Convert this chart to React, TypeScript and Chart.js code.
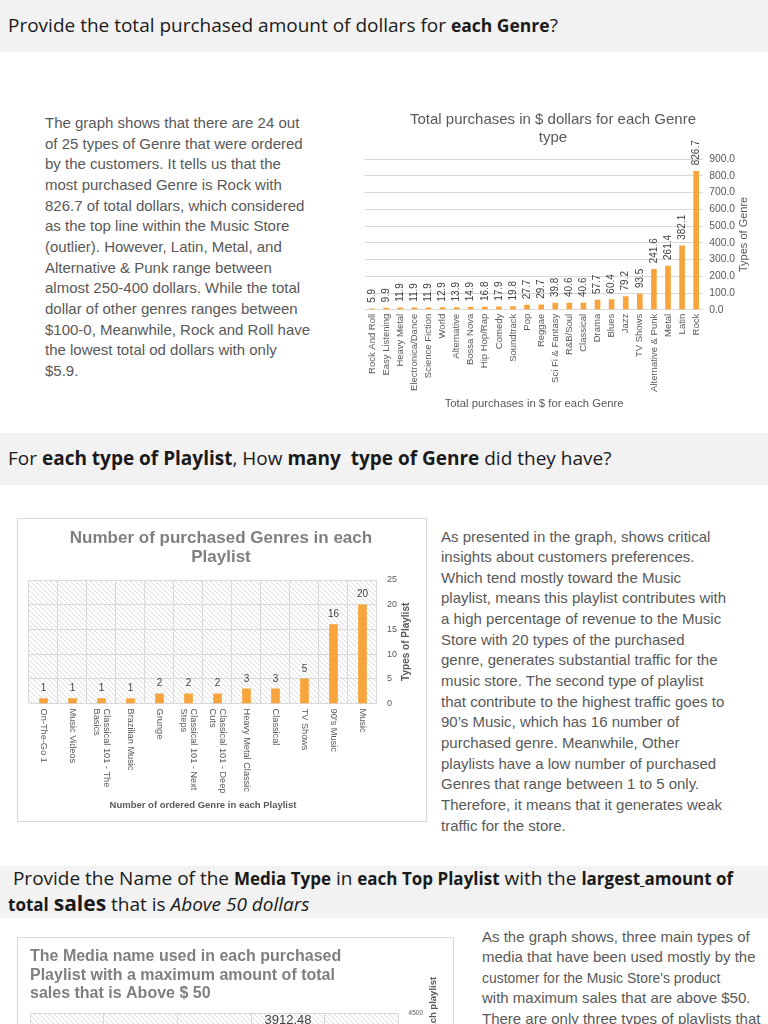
import React, { useEffect, useRef } from "react";
import { Chart, registerables } from "chart.js";

Chart.register(...registerables);

const FONT = "'Liberation Sans', Arial, Helvetica, sans-serif";
Chart.defaults.font.family = FONT;

const ORANGE = "#F8A43C";

// ---------- Data: chart 1 ----------
const genreLabels = [
  "Rock And Roll", "Easy Listening", "Heavy Metal", "Electronica/Dance", "Science Fiction",
  "World", "Alternative", "Bossa Nova", "Hip Hop/Rap", "Comedy", "Soundtrack", "Pop",
  "Reggae", "Sci Fi & Fantasy", "R&B/Soul", "Classical", "Drama", "Blues", "Jazz",
  "TV Shows", "Alternative & Punk", "Metal", "Latin", "Rock",
];
const genreTotals = [
  5.9, 9.9, 11.9, 11.9, 11.9, 12.9, 13.9, 14.9, 16.8, 17.9, 19.8, 27.7,
  29.7, 39.8, 40.6, 40.6, 57.7, 60.4, 79.2, 93.5, 241.6, 261.4, 382.1, 826.7,
];

// ---------- Data: chart 2 ----------
const playlistLabels = [
  ["On-The-Go 1"], ["Music Videos"], ["Classical 101 - The", "Basics"], ["Brazilian Music"],
  ["Grunge"], ["Classical 101 - Next", "Steps"], ["Classical 101 - Deep", "Cuts"],
  ["Heavy Metal Classic"], ["Classical"], ["TV Shows"], ["90’s Music"], ["Music"],
];
const playlistGenreCounts = [1, 1, 1, 1, 2, 2, 2, 3, 3, 5, 16, 20];

// ---------- Data: chart 3 (only the top is visible) ----------
const mediaPlaylistLabels = [["Classical"], ["TV Shows"], ["90’s Music"], ["Music"], ["Movies"]];
const mediaPlaylistSales = [412.5, 1134.2, 2264.9, 3912.48, 205.6];

// ---------- Plugins ----------
const valueLabelsPlugin = {
  id: "valueLabels",
  afterDatasetsDraw(chart: any, _a: any, opts: any) {
    if (!opts || !opts.display) return;
    const { ctx } = chart;
    const meta = chart.getDatasetMeta(0);
    const data = chart.data.datasets[0].data as number[];
    ctx.save();
    ctx.font = opts.font;
    ctx.fillStyle = opts.color;
    meta.data.forEach((bar: any, i: number) => {
      const { x, y } = bar.getProps(["x", "y"], true);
      const text = Number(data[i]).toFixed(opts.decimals);
      if (opts.rotate) {
        ctx.save();
        ctx.translate(x, y - opts.offset);
        ctx.rotate(-Math.PI / 2);
        ctx.textAlign = "left";
        ctx.textBaseline = "middle";
        ctx.fillText(text, 0, 0);
        ctx.restore();
      } else {
        ctx.textAlign = "center";
        ctx.textBaseline = "middle";
        ctx.fillText(text, x, y - opts.offset);
      }
    });
    ctx.restore();
  },
};

const sideTitlePlugin = {
  id: "sideTitle",
  afterDraw(chart: any, _a: any, opts: any) {
    if (!opts || !opts.text) return;
    const { ctx, chartArea } = chart;
    ctx.save();
    ctx.font = opts.font;
    ctx.fillStyle = opts.color;
    ctx.translate(chartArea.right + opts.offset, (chartArea.top + chartArea.bottom) / 2);
    ctx.rotate(-Math.PI / 2);
    ctx.textAlign = "center";
    ctx.textBaseline = "middle";
    ctx.fillText(opts.text, 0, 0);
    ctx.restore();
  },
};

function makeHatch(): CanvasPattern | string {
  const c = document.createElement("canvas");
  c.width = 5;
  c.height = 5;
  const g = c.getContext("2d");
  if (!g) return "#fff";
  g.fillStyle = "#ffffff";
  g.fillRect(0, 0, 5, 5);
  g.strokeStyle = "#dcdcdc";
  g.lineWidth = 1;
  g.beginPath();
  g.moveTo(-1, -1);
  g.lineTo(6, 6);
  g.moveTo(-1, 4);
  g.lineTo(1, 6);
  g.moveTo(4, -1);
  g.lineTo(6, 1);
  g.stroke();
  const p = g.createPattern(c, "repeat");
  return p || "#fff";
}

const hatchPlugin = {
  id: "hatch",
  beforeDraw(chart: any, _a: any, opts: any) {
    if (!opts || !opts.enabled) return;
    const { ctx, chartArea } = chart;
    ctx.save();
    ctx.fillStyle = makeHatch();
    ctx.fillRect(chartArea.left, chartArea.top, chartArea.right - chartArea.left, chartArea.bottom - chartArea.top);
    ctx.restore();
  },
};

const downLabelsPlugin = {
  id: "downLabels",
  afterDraw(chart: any, _a: any, opts: any) {
    if (!opts || !opts.enabled) return;
    const { ctx, chartArea } = chart;
    const xs = chart.scales.x;
    const labels = chart.data.labels as any[];
    ctx.save();
    ctx.font = opts.font;
    ctx.fillStyle = opts.color;
    ctx.textAlign = "left";
    ctx.textBaseline = "middle";
    labels.forEach((lab: any, i: number) => {
      const lines: string[] = Array.isArray(lab) ? lab : [String(lab)];
      const px = xs.getPixelForValue(i);
      ctx.save();
      ctx.translate(px, chartArea.bottom + opts.offset);
      ctx.rotate(Math.PI / 2);
      lines.forEach((ln, j) => {
        ctx.fillText(ln, 0, (j - (lines.length - 1) / 2) * opts.lineHeight);
      });
      ctx.restore();
    });
    ctx.restore();
  },
};

const allPlugins = [valueLabelsPlugin, sideTitlePlugin, hatchPlugin, downLabelsPlugin];

// ---------- Configs ----------
function genreConfig(): any {
  return {
    type: "bar",
    data: {
      labels: genreLabels,
      datasets: [{ data: genreTotals, backgroundColor: ORANGE, barThickness: 5 }],
    },
    options: {
      animation: false,
      responsive: false,
      maintainAspectRatio: false,
      layout: { padding: { left: 7, right: 19, top: 0, bottom: 3 } },
      plugins: {
        legend: { display: false },
        tooltip: { enabled: false },
        title: {
          display: true,
          text: ["Total purchases in $ dollars for each Genre", "type"],
          color: "#595959",
          font: { size: 15, weight: "normal", lineHeight: 1.2 },
          padding: { top: 7, bottom: 12 },
        },
        valueLabels: { display: true, rotate: true, offset: 6, decimals: 1, font: `10px ${FONT}`, color: "#404040" },
        sideTitle: { text: "Types of Genre", offset: 41, font: `11px ${FONT}`, color: "#595959" },
      },
      scales: {
        x: {
          grid: { display: false, drawTicks: false },
          border: { display: false },
          ticks: { autoSkip: false, minRotation: 90, maxRotation: 90, color: "#595959", font: { size: 9.5 }, padding: 4 },
          title: {
            display: true,
            text: "Total purchases in $ for each Genre",
            color: "#595959",
            font: { size: 11.3 },
            padding: { top: 1.5, bottom: 4 },
          },
        },
        y: {
          position: "right",
          min: 0,
          max: 900,
          ticks: { stepSize: 100, color: "#595959", font: { size: 10.3 }, padding: 6, callback: (v: any) => Number(v).toFixed(1) },
          grid: { color: "#d9d9d9", drawTicks: false },
          border: { display: false },
        },
      },
    },
  };
}

function playlistConfig(): any {
  return {
    type: "bar",
    data: {
      labels: playlistLabels,
      datasets: [{ data: playlistGenreCounts, backgroundColor: ORANGE, barThickness: 8 }],
    },
    options: {
      animation: false,
      responsive: false,
      maintainAspectRatio: false,
      layout: { padding: { left: 11, right: 11, top: 0, bottom: 6 } },
      plugins: {
        legend: { display: false },
        tooltip: { enabled: false },
        title: {
          display: true,
          text: ["Number of purchased Genres in each", "Playlist"],
          color: "#7f7f7f",
          font: { size: 17, weight: "bold", lineHeight: 19 / 17 },
          padding: { top: 9.5, bottom: 13.5 },
        },
        hatch: { enabled: true },
        valueLabels: { display: true, rotate: false, offset: 10, decimals: 0, font: `10px ${FONT}`, color: "#404040" },
        downLabels: { enabled: true, offset: 5, lineHeight: 10.5, font: `9.2px ${FONT}`, color: "#595959" },
        sideTitle: { text: "Types of Playlist", offset: 29, font: `bold 10px ${FONT}`, color: "#595959" },
      },
      scales: {
        x: {
          grid: { color: "#d9d9d9", drawTicks: false, offset: true },
          border: { display: true, color: "#d9d9d9" },
          ticks: { display: false },
          title: {
            display: true,
            text: "Number of ordered Genre in each Playlist",
            color: "#595959",
            font: { size: 9.5, weight: "bold" },
            padding: { top: 96, bottom: 4 },
          },
        },
        y: {
          position: "right",
          min: 0,
          max: 25,
          ticks: { stepSize: 5, color: "#595959", font: { size: 9 }, padding: 10 },
          grid: { color: "#d9d9d9", drawTicks: false },
          border: { display: true, color: "#d9d9d9" },
          afterFit: (scale: any) => {
            scale.width += 6;
          },
        },
      },
    },
  };
}

function mediaConfig(): any {
  return {
    type: "bar",
    data: {
      labels: mediaPlaylistLabels,
      datasets: [{ data: mediaPlaylistSales, backgroundColor: ORANGE, barThickness: 14 }],
    },
    options: {
      animation: false,
      responsive: false,
      maintainAspectRatio: false,
      layout: { padding: { left: 12, right: 20, top: 0, bottom: 6 } },
      plugins: {
        legend: { display: false },
        tooltip: { enabled: false },
        title: {
          display: true,
          align: "start",
          text: ["The Media name used in each purchased", "Playlist with a maximum amount of total", "sales that is Above $ 50"],
          color: "#7f7f7f",
          font: { size: 16, weight: "bold", lineHeight: 18.5 / 16 },
          padding: { top: 9.75, bottom: 9.75 },
        },
        hatch: { enabled: true },
        valueLabels: { display: true, rotate: false, offset: 11, decimals: 2, font: `13px ${FONT}`, color: "#404040" },
        downLabels: { enabled: true, offset: 5, lineHeight: 10.5, font: `9px ${FONT}`, color: "#595959" },
        sideTitle: { text: "Maximum amount of total sales in each playlist", offset: 34.5, font: `bold 9.5px ${FONT}`, color: "#595959" },
      },
      scales: {
        x: {
          grid: { color: "#d9d9d9", drawTicks: false, offset: true },
          border: { display: true, color: "#d9d9d9" },
          ticks: { display: false },
          title: {
            display: true,
            text: "Playlist and Media Type",
            color: "#595959",
            font: { size: 9.5, weight: "bold" },
            padding: { top: 99.6, bottom: 4 },
          },
        },
        y: {
          position: "right",
          min: 0,
          max: 4500,
          ticks: { stepSize: 500, color: "#595959", font: { size: 6.5 }, padding: 10, callback: (v: any) => String(v) },
          grid: { color: "#d9d9d9", drawTicks: false },
          border: { display: true, color: "#d9d9d9" },
        },
      },
    },
  };
}

// ---------- Components ----------
function ChartCanvas(props: { make: () => any; left: number; top: number; width: number; height: number }) {
  const ref = useRef<HTMLCanvasElement | null>(null);
  useEffect(() => {
    if (!ref.current) return;
    const cfg = props.make();
    cfg.plugins = allPlugins;
    const chart = new Chart(ref.current, cfg);
    return () => chart.destroy();
  }, []);
  return (
    <canvas
      ref={ref}
      width={props.width}
      height={props.height}
      style={{ position: "absolute", left: props.left, top: props.top, width: props.width, height: props.height }}
    />
  );
}

const band: React.CSSProperties = {
  position: "absolute",
  left: 0,
  width: 768,
  background: "#f2f2f2",
  fontFamily: "'Open Sans', sans-serif",
  color: "#1a1a1a",
  fontSize: 19,
  whiteSpace: "pre",
};

const para: React.CSSProperties = {
  position: "absolute",
  fontFamily: FONT,
  fontSize: 15,
  lineHeight: "20.65px",
  color: "#595959",
  whiteSpace: "pre",
};

export default function App() {
  return (
    <div style={{ position: "absolute", left: 0, top: 0, width: 768, height: 1024, overflow: "hidden", background: "#ffffff" }}>
      {/* Header 1 */}
      <div style={{ ...band, top: 0, height: 52 }}>
        <div style={{ lineHeight: "50px", paddingLeft: 8 }}>
          Provide the total purchased amount of dollars for <b style={{ fontSize: 17.5 }}>each Genre</b>?
        </div>
      </div>

      {/* Paragraph 1 */}
      <div style={{ ...para, left: 45, top: 113 }}>
        {[
          "The graph shows that there are 24 out",
          "of 25 types of Genre that were ordered",
          "by the customers. It tells us that the",
          "most purchased Genre is Rock with",
          "826.7 of total dollars, which considered",
          "as the top line within the Music Store",
          "(outlier). However, Latin, Metal, and",
          "Alternative & Punk range between",
          "almost 250-400 dollars. While the total",
          "dollar of other genres ranges between",
          "$100-0, Meanwhile, Rock and Roll have",
          "the lowest total od dollars with only",
          "$5.9.",
        ].map((l, i) => (
          <div key={i}>{l}</div>
        ))}
      </div>

      <ChartCanvas make={genreConfig} left={358} top={104} width={402} height={314} />

      {/* Header 2 */}
      <div style={{ ...band, top: 433, height: 52 }}>
        <div style={{ lineHeight: "50px", paddingLeft: 8 }}>
          For <b>each type of Playlist</b>, How <b>many  type of Genre</b> did they have?
        </div>
      </div>

      {/* Chart 2 box */}
      <div
        style={{
          position: "absolute",
          left: 17,
          top: 518,
          width: 410,
          height: 304,
          boxSizing: "border-box",
          border: "1px solid #d9d9d9",
          background: "#fff",
        }}
      />
      <ChartCanvas make={playlistConfig} left={18} top={519} width={406} height={302} />

      {/* Paragraph 2 */}
      <div style={{ ...para, left: 441, top: 526.5 }}>
        {[
          "As presented in the graph, shows critical",
          "insights about customers preferences.",
          "Which tend mostly toward the Music",
          "playlist, means this playlist contributes with",
          "a high percentage of revenue to the Music",
          "Store with 20 types of the purchased",
          "genre, generates substantial traffic for the",
          "music store. The second type of playlist",
          "that contribute to the highest traffic goes to",
          "90’s Music, which has 16 number of",
          "purchased genre. Meanwhile, Other",
          "playlists have a low number of purchased",
          "Genres that range between 1 to 5 only.",
          "Therefore, it means that it generates weak",
          "traffic for the store.",
        ].map((l, i) => (
          <div key={i}>{l}</div>
        ))}
      </div>

      {/* Header 3 */}
      <div style={{ ...band, top: 866, height: 52 }}>
        <div style={{ lineHeight: "24px", paddingLeft: 8 }}>
          <div>
            {" Provide the Name of the "}
            <b style={{ fontSize: 17 }}>Media Type</b>
            {" in "}
            <b style={{ fontSize: 17 }}>each Top Playlist</b>
            {" with the "}
            <b style={{ fontSize: 17 }}>
              largest<u> </u>amount of
            </b>
          </div>
          <div>
            <b style={{ fontSize: 17 }}>total</b> <b style={{ fontSize: 21 }}>sales</b> that is <i>Above 50 dollars</i>
          </div>
        </div>
      </div>

      {/* Chart 3 box */}
      <div
        style={{
          position: "absolute",
          left: 17,
          top: 937,
          width: 437,
          height: 420,
          boxSizing: "border-box",
          border: "1px solid #d9d9d9",
          background: "#fff",
        }}
      />
      <ChartCanvas make={mediaConfig} left={18} top={938} width={435} height={336} />

      {/* Paragraph 3 */}
      <div style={{ ...para, left: 482, top: 926.5 }}>
        <div>As the graph shows, three main types of</div>
        <div>media that have been used mostly by the</div>
        <div>
          <span style={{ display: "inline-block", transform: "scaleX(0.93)", transformOrigin: "left center" }}>
            customer for the Music Store's product
          </span>
        </div>
        <div>with maximum sales that are above $50.</div>
        <div>There are only three types of playlists that</div>
      </div>
    </div>
  );
}
